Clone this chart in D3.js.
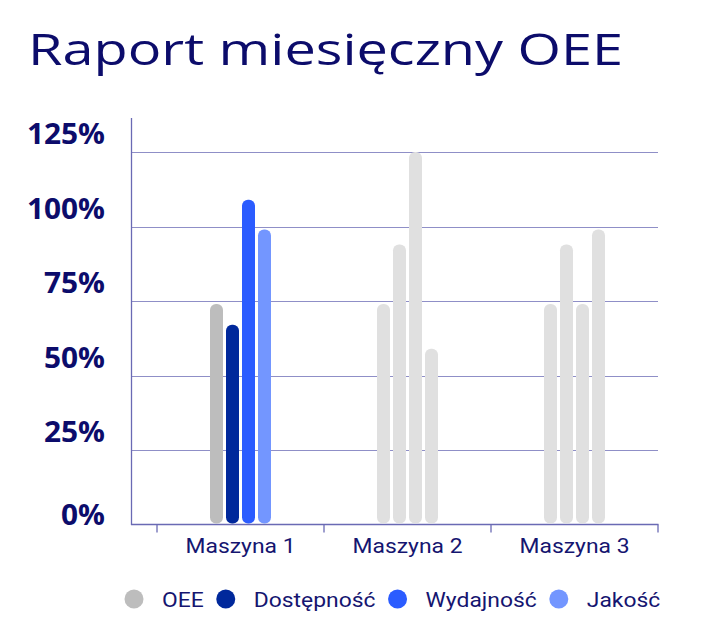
<!DOCTYPE html>
<html>
<head>
<meta charset="utf-8">
<script src="https://cdn.jsdelivr.net/npm/d3@7"></script>
<style>
  html, body { margin: 0; padding: 0; background: #ffffff; }
  svg { display: block; }
</style>
</head>
<body>
<svg id="chart" width="717" height="639"></svg>
<script>
const title = "Raport miesięczny OEE";
const machines = ["Maszyna 1", "Maszyna 2", "Maszyna 3"];
const series = ["OEE", "Dostępność", "Wydajność", "Jakość"];
const oeeValues = [74, 74, 74];
const availabilityValues = [67, 94, 94];
const performanceValues = [109, 125, 74];
const qualityValues = [99, 59, 99];
const yTicks = [0, 25, 50, 75, 100, 125];
const activeMachine = "Maszyna 1";

const seriesValues = [oeeValues, availabilityValues, performanceValues, qualityValues];
const colors = ["#bdbdbd", "#00289b", "#2b5cff", "#7396ff"];
const inactiveColor = "#e0e0e0";
const navy = "#0c0c6b";

const svg = d3.select("#chart");

// horizontal stretch factors (reference glyphs are wider than the installed fonts)
const titleStretch = 1.27;
const tickStretch = 1.03;
const labelStretch = 1.09;

svg.append("text")
  .attr("transform", `translate(28,65) scale(${titleStretch},1)`)
  .attr("font-family", "'Open Sans', 'Noto Sans', sans-serif")
  .attr("font-size", 44)
  .attr("fill", navy)
  .text(title);

const x0 = d3.scaleBand().domain(machines).range([157, 658]).paddingInner(0).paddingOuter(0);
const x1 = d3.scaleBand().domain(series).range([0, 61]).paddingInner(0.1875).paddingOuter(0);
const y = d3.scaleLinear().domain([0, 125]).range([524.5, 152]);

// gridlines
svg.append("g")
  .selectAll("line")
  .data(yTicks.filter(d => d > 0))
  .join("line")
  .attr("x1", 131).attr("x2", 658)
  .attr("y1", d => Math.round(y(d)) + 0.5).attr("y2", d => Math.round(y(d)) + 0.5)
  .attr("stroke", "#6a6ab4").attr("stroke-opacity", 0.75).attr("stroke-width", 1.2);

// y tick labels
svg.append("g")
  .selectAll("text")
  .data(yTicks)
  .join("text")
  .attr("transform", d => `translate(105,${d === 0 ? y(d) + 0.5 : y(d) - 8}) scale(${tickStretch},1)`)
  .attr("text-anchor", "end")
  .attr("font-family", "'Open Sans', 'Noto Sans', sans-serif")
  .attr("font-weight", 700)
  .attr("font-size", 29)
  .attr("fill", navy)
  .text(d => d + "%");

// y axis line
svg.append("line")
  .attr("x1", 131.5).attr("x2", 131.5)
  .attr("y1", 118).attr("y2", 525)
  .attr("stroke", "#6a6ab4").attr("stroke-width", 1.3);

// x axis
const xAxis = svg.append("g").attr("transform", "translate(0,524.5)");
xAxis.append("line")
  .attr("x1", 131).attr("x2", 658.5)
  .attr("stroke", "#6a6ab4").attr("stroke-width", 1.3);
const boundaries = machines.map(m => x0(m)).concat([x0.range()[1]]);
xAxis.selectAll("line.tick")
  .data(boundaries)
  .join("line")
  .attr("class", "tick")
  .attr("x1", d => d).attr("x2", d => d)
  .attr("y1", 0).attr("y2", 8)
  .attr("stroke", "#6a6ab4").attr("stroke-width", 1.3);
xAxis.selectAll("text")
  .data(machines)
  .join("text")
  .attr("transform", d => `translate(${x0(d) + x0.bandwidth() / 2},28) scale(${labelStretch},1)`)
  .attr("text-anchor", "middle")
  .attr("font-family", "Roboto, sans-serif")
  .attr("font-size", 21)
  .attr("fill", "#151570")
  .text(d => d);

// bars
const barData = [];
machines.forEach((m, i) => {
  series.forEach((s, j) => {
    barData.push({ machine: m, series: s, value: seriesValues[j][i], color: m === activeMachine ? colors[j] : inactiveColor });
  });
});
const groupWidth = x1.range()[1];
svg.append("g")
  .selectAll("rect")
  .data(barData)
  .join("rect")
  .attr("x", d => x0(d.machine) + x0.bandwidth() / 2 - groupWidth / 2 + x1(d.series))
  .attr("width", x1.bandwidth())
  .attr("y", d => y(d.value))
  .attr("height", d => y(0) - 1 - y(d.value))
  .attr("rx", 6).attr("ry", 6)
  .attr("fill", d => d.color);

// legend
const legend = svg.append("g");
let cx = 134;
series.forEach((s, j) => {
  legend.append("circle").attr("cx", cx).attr("cy", 599).attr("r", 9.5).attr("fill", colors[j]);
  const t = legend.append("text")
    .attr("transform", `translate(${cx + 28},606.5) scale(${labelStretch},1)`)
    .attr("font-family", "Roboto, sans-serif")
    .attr("font-size", 21)
    .attr("fill", "#151570")
    .text(s);
  cx = cx + 28 + t.node().getComputedTextLength() * labelStretch + 22;
});
</script>
</body>
</html>
